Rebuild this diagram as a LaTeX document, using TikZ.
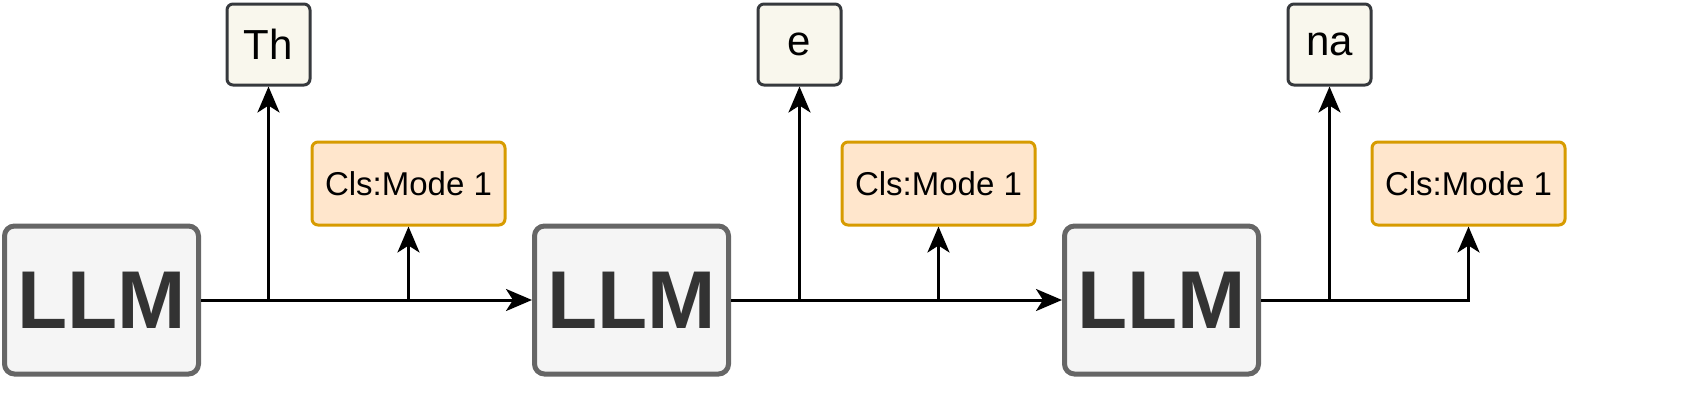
\documentclass[tikz,border=0pt]{standalone}
\usepackage{fontspec}
\setmainfont{Liberation Sans}
\usetikzlibrary{arrows.meta}
\definecolor{llmfill}{HTML}{F5F5F5}
\definecolor{llmline}{HTML}{666666}
\definecolor{llmtext}{HTML}{333333}
\definecolor{tokfill}{HTML}{F9F7ED}
\definecolor{tokline}{HTML}{36393D}
\definecolor{clsfill}{HTML}{FFE6CC}
\definecolor{clsline}{HTML}{D79B00}
\begin{document}
\begin{tikzpicture}[x=1pt, y=-1pt,
    llmbox/.style={draw=llmline, fill=llmfill, line width=5pt, rounded corners=10pt,
      minimum width=194pt, minimum height=148pt, inner sep=0pt,
      text=llmtext, font=\fontsize{82}{82}\selectfont\bfseries},
    tokbox/.style={draw=tokline, fill=tokfill, line width=3pt, rounded corners=6pt,
      minimum width=83pt, minimum height=81pt, inner sep=0pt,
      font=\fontsize{42}{42}\selectfont},
    clsbox/.style={draw=clsline, fill=clsfill, line width=3pt, rounded corners=6pt,
      minimum width=193pt, minimum height=83pt, inner sep=0pt,
      font=\fontsize{33}{33}\selectfont},
    arr/.style={line width=3pt, -{Stealth[length=26pt, width=22pt, inset=7pt]}}]
  \useasboundingbox (0,0) rectangle (1686,408);
  % models
  \node[llmbox] (llm1) at (101.5,300) {LLM};
  \node[llmbox] (llm2) at (631.5,300) {LLM};
  \node[llmbox] (llm3) at (1161.5,300) {LLM};
  % output tokens
  \node[tokbox] (tok1) at (268.5,44.5) {Th};
  \node[tokbox] (tok2) at (799.5,44.5) {e};
  \node[tokbox] (tok3) at (1329.5,44.5) {na};
  % classifier heads
  \node[clsbox] (cls1) at (408.5,183.5) {Cls:Mode 1};
  \node[clsbox] (cls2) at (938.5,183.5) {Cls:Mode 1};
  \node[clsbox] (cls3) at (1468.5,183.5) {Cls:Mode 1};
  % connectors
  \draw[arr] (llm1.east) -- (llm2.west);
  \draw[arr] (llm2.east) -- (llm3.west);
  \draw[arr] (llm3.east) -| (cls3.south);
  \draw[arr] (tok1.south |- llm1.east) -- (tok1.south);
  \draw[arr] (cls1.south |- llm1.east) -- (cls1.south);
  \draw[arr] (tok2.south |- llm2.east) -- (tok2.south);
  \draw[arr] (cls2.south |- llm2.east) -- (cls2.south);
  \draw[arr] (tok3.south |- llm3.east) -- (tok3.south);
\end{tikzpicture}
\end{document}
